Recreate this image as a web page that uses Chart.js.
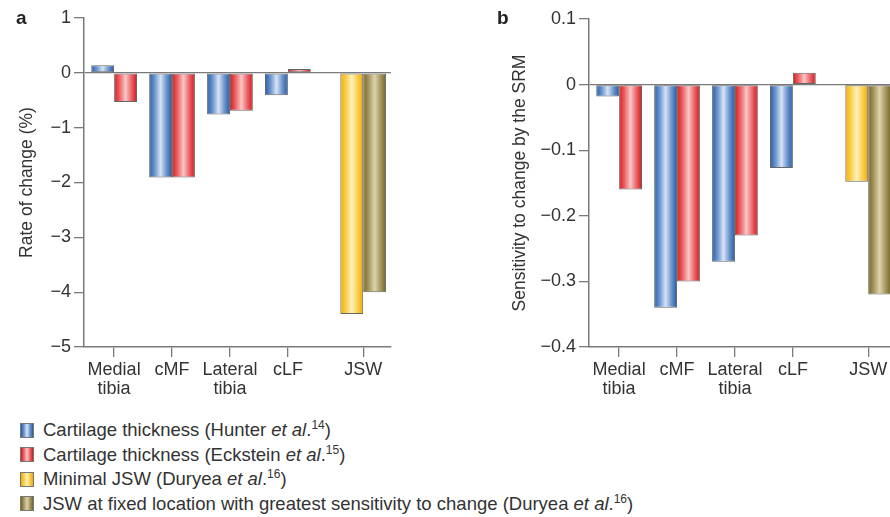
<!DOCTYPE html>
<html>
<head>
<meta charset="utf-8">
<script src="https://cdn.jsdelivr.net/npm/chart.js@4"></script>
<style>
  html, body { margin: 0; padding: 0; background: #fff; overflow: hidden; }
  #wrap { position: relative; width: 890px; height: 517px; overflow: hidden;
          font-family: "Liberation Sans", Arial, sans-serif; color: #333; }
  #boxA { position: absolute; left: 0; top: 0; width: 400px; height: 410px; }
  #boxB { position: absolute; left: 480px; top: 0; width: 420px; height: 410px; }
  .tag { position: absolute; font-weight: bold; font-size: 19px; color: #222; }
  #legend { position: absolute; left: 20px; top: 418px; font-size: 18.5px; }
  .row { height: 24.5px; display: flex; align-items: center; white-space: nowrap; }
  .sw { width: 12px; height: 13px; border: 1px solid #777; margin-right: 9px; }
  sup { font-size: 12px; line-height: 0; }
</style>
</head>
<body>
<div id="wrap">
  <div id="boxA"><canvas id="chartA"></canvas></div>
  <div id="boxB"><canvas id="chartB"></canvas></div>
  <div class="tag" style="left:16px;top:7px;">a</div>
  <div class="tag" style="left:497px;top:7px;">b</div>
  <div id="legend"></div>
</div>
<script>
// ─── DATA ─────────────────────────────────────────────────────────────────────
const catLabels = [['Medial', 'tibia'], 'cMF', ['Lateral', 'tibia'], 'cLF', 'JSW'];
const catX      = [0, 1, 2, 3, 4.3];          // JSW group sits a little apart

const rateHunter    = [0.14, -1.91, -0.76, -0.41, null];
const rateEckstein  = [-0.53, -1.91, -0.69, 0.07, null];
const rateMinJSW    = [null, null, null, null, -4.40];
const rateFixedJSW  = [null, null, null, null, -4.00];

const srmHunter     = [-0.018, -0.34, -0.27, -0.127, null];
const srmEckstein   = [-0.16, -0.30, -0.23, 0.018, null];
const srmMinJSW     = [null, null, null, null, -0.148];
const srmFixedJSW   = [null, null, null, null, -0.32];

const rateTicks = [1, 0, -1, -2, -3, -4, -5];
const srmTicks  = [0.1, 0, -0.1, -0.2, -0.3, -0.4];

const seriesNames = [
  'Cartilage thickness (Hunter',
  'Cartilage thickness (Eckstein',
  'Minimal JSW (Duryea',
  'JSW at fixed location with greatest sensitivity to change (Duryea',
];
const seriesRefs = ['14', '15', '16', '16'];

// cylinder-like shading: edge, mid, highlight, mid, edge
const shades = [
  ['#245ca8', '#6f97cf', '#d7e3f3', '#6f97cf', '#2458a3'],
  ['#d9161c', '#ec6669', '#f9c6c7', '#ec6669', '#d3161b'],
  ['#f2ad00', '#f9cf4f', '#fff1bd', '#f9cf4f', '#f0aa00'],
  ['#76622a', '#a8995f', '#dcd4ae', '#a8995f', '#75622a'],
];

// ─── HELPERS ──────────────────────────────────────────────────────────────────
Chart.defaults.font.family = '"Liberation Sans", Arial, sans-serif';
Chart.defaults.color = '#333';

const axisGrey = '#7a7a7a';
const minus = s => String(s).replace('-', '\u2212');

const toPoints = vals => vals.map((v, i) => ({ x: catX[i], y: v }));

const barShine = {
  id: 'barShine',
  beforeDatasetsDraw(chart) {
    const ctx = chart.ctx;
    chart.data.datasets.forEach((ds, i) => {
      chart.getDatasetMeta(i).data.forEach(bar => {
        if (!bar.width) return;
        const half = bar.width / 2;
        const g = ctx.createLinearGradient(bar.x - half, 0, bar.x + half, 0);
        shades[i].forEach((c, k) => g.addColorStop(k / (shades[i].length - 1), c));
        bar.options = Object.assign({}, bar.options, { backgroundColor: g });
      });
    });
  },
};

function makePanel(el, series, ticks, fmt, title, yWidth, pad, titlePad) {
  return new Chart(el, {
    type: 'bar',
    data: {
      datasets: series.map((vals, i) => ({
        label: seriesNames[i],
        data: toPoints(vals),
        backgroundColor: shades[i][2],
        borderColor: '#666',
        borderWidth: 1,
        borderSkipped: false,
        skipNull: true,
        barPercentage: 1,
        categoryPercentage: 0.79,
      })),
    },
    options: {
      responsive: true,
      maintainAspectRatio: false,
      animation: false,
      layout: { padding: pad },
      plugins: { legend: { display: false }, tooltip: { enabled: false } },
      scales: {
        x: {
          type: 'linear',
          offset: false,
          min: -0.52, max: 4.78,
          afterFit: s => { s.height = 63; },
          afterBuildTicks: s => { s.ticks = catX.map(v => ({ value: v })); },
          ticks: {
            autoSkip: false, maxRotation: 0, padding: 3,
            font: { size: 18, lineHeight: 1.08 },
            callback: (v, i) => catLabels[i],
          },
          grid: { offset: false, drawOnChartArea: false, tickLength: 10, tickColor: axisGrey, lineWidth: 1.3 },
          border: { color: axisGrey, width: 1.5 },
        },
        y: {
          min: ticks[ticks.length - 1], max: ticks[0],
          afterFit: s => { s.width = yWidth; },
          afterBuildTicks: s => { s.ticks = ticks.map(v => ({ value: v })); },
          ticks: { padding: 3, font: { size: 18 }, callback: v => fmt(v) },
          grid: {
            color: c => (c.tick && c.tick.value === 0 ? axisGrey : 'rgba(0,0,0,0)'),
            lineWidth: 1.3, tickLength: 10, tickColor: axisGrey,
          },
          border: { color: axisGrey, width: 1.5 },
          title: { display: true, text: title, font: { size: 17.5 }, padding: { top: titlePad, bottom: 0 } },
        },
      },
    },
    plugins: [barShine],
  });
}

// ─── PANELS ───────────────────────────────────────────────────────────────────
makePanel(
  document.getElementById('chartA'),
  [rateHunter, rateEckstein, rateMinJSW, rateFixedJSW],
  rateTicks, v => minus(v),
  'Rate of change (%)', 84, { top: 18, right: 9, left: 0, bottom: 0 }, 17
);

makePanel(
  document.getElementById('chartB'),
  [srmHunter, srmEckstein, srmMinJSW, srmFixedJSW],
  srmTicks, v => (v === 0 ? '0' : minus(v.toFixed(1))),
  'Sensitivity to change by the SRM', 109, { top: 19, right: 4, left: 0, bottom: 0 }, 30
);

// ─── LEGEND ───────────────────────────────────────────────────────────────────
const lg = document.getElementById('legend');
seriesNames.forEach((name, i) => {
  const s = shades[i];
  lg.insertAdjacentHTML('beforeend',
    '<div class="row"><span class="sw" style="background:linear-gradient(to right,' +
    s.join(',') + ')"></span><span>' + name + ' <i>et al</i>.<sup>' + seriesRefs[i] +
    '</sup>)</span></div>');
});
</script>
</body>
</html>
